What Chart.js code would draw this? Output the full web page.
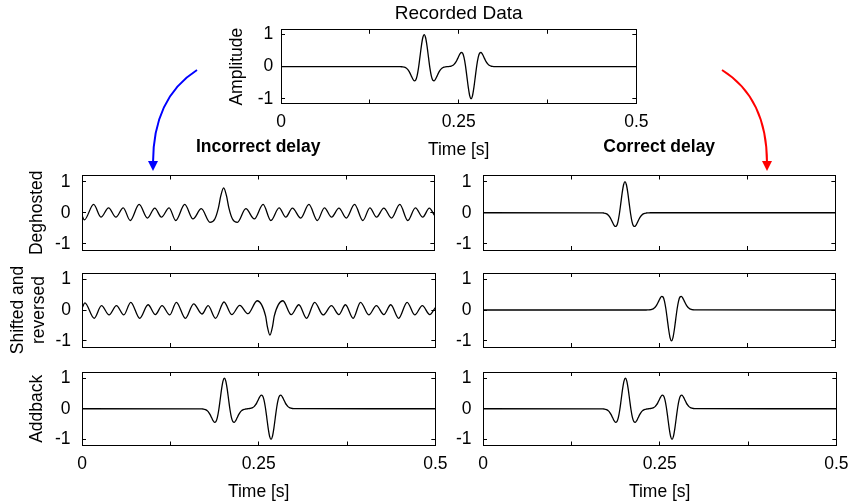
<!DOCTYPE html>
<html>
<head>
<meta charset="utf-8">
<title>Deghosting: incorrect and correct delay</title>
<script src="https://cdn.jsdelivr.net/npm/chart.js@4.4.1/dist/chart.umd.min.js"></script>
<style>
  body { margin: 0; background: #fff; width: 849px; height: 504px; position: relative; overflow: hidden; }
  canvas { position: absolute; }
</style>
</head>
<body>
<canvas id="arrows" width="849" height="504" style="left:0;top:0"></canvas>
<script>
// axis ticks shared by every panel
const xTicks = [0, 0.125, 0.25, 0.375, 0.5];
const xTickLabels = ['0', '', '0.25', '', '0.5'];
const yTicks = [-1, 0, 1];
const yTickLabels = ['-1', '0', '1'];

// sample times (s) around the primary arrival and its ghost
const waveTime = [
  0,
  0.1675, 0.1695, 0.1715, 0.1735, 0.1755, 0.1775, 0.1795, 0.1815, 0.1835, 0.1855,
  0.1875, 0.1895, 0.1915, 0.1935, 0.1955, 0.1975, 0.1995, 0.2015, 0.2035, 0.2055,
  0.2075, 0.2095, 0.2115, 0.2135, 0.2155, 0.2175, 0.2195, 0.2215, 0.2235, 0.2255,
  0.2275, 0.2295, 0.2315, 0.2335, 0.2355, 0.2375, 0.2395, 0.2415, 0.2435, 0.2455,
  0.2475, 0.2495, 0.2515, 0.2535, 0.2555, 0.2575, 0.2595, 0.2615, 0.2635, 0.2655,
  0.2675, 0.2695, 0.2715, 0.2735, 0.2755, 0.2775, 0.2795, 0.2815, 0.2835, 0.2855,
  0.2875, 0.2895, 0.2915, 0.2935, 0.2955, 0.2975, 0.2995, 0.3015,
  0.5
];

// recorded trace (primary + ghost); the addback panels give the same trace back
const recordedAmp = [
  0,
  -0.001, -0.003, -0.008, -0.017, -0.036, -0.070, -0.124, -0.201, -0.295, -0.386,
  -0.442, -0.422, -0.291, -0.041, 0.295, 0.641, 0.902, 1.0, 0.902, 0.641,
  0.295, -0.041, -0.291, -0.422, -0.442, -0.386, -0.295, -0.201, -0.124, -0.070,
  -0.036, -0.017, -0.008, -0.002, 0.002, 0.008, 0.017, 0.036, 0.070, 0.124,
  0.201, 0.295, 0.386, 0.442, 0.422, 0.291, 0.041, -0.295, -0.641, -0.902,
  -1.0, -0.902, -0.641, -0.295, 0.041, 0.291, 0.422, 0.442, 0.386, 0.295,
  0.201, 0.124, 0.070, 0.036, 0.017, 0.008, 0.003, 0.001,
  0
];

// correct delay: deghosted primary
const primaryAmp = [
  0,
  -0.001, -0.003, -0.008, -0.017, -0.036, -0.070, -0.124, -0.201, -0.295, -0.386,
  -0.442, -0.422, -0.291, -0.041, 0.295, 0.641, 0.902, 1.0, 0.902, 0.641,
  0.295, -0.041, -0.291, -0.422, -0.442, -0.386, -0.295, -0.201, -0.124, -0.070,
  -0.036, -0.017, -0.008, -0.003, -0.001, 0, 0, 0, 0, 0,
  0, 0, 0, 0, 0, 0, 0, 0, 0, 0,
  0, 0, 0, 0, 0, 0, 0, 0, 0, 0,
  0, 0, 0, 0, 0, 0, 0, 0,
  0
];

// correct delay: shifted and reversed ghost
const ghostAmp = [
  0,
  0, 0, 0, 0, 0, 0, 0, 0, 0, 0,
  0, 0, 0, 0, 0, 0, 0, 0, 0, 0,
  0, 0, 0, 0, 0, 0, 0, 0, 0, 0,
  0, 0, 0, 0.001, 0.003, 0.008, 0.017, 0.036, 0.070, 0.124,
  0.201, 0.295, 0.386, 0.442, 0.422, 0.291, 0.041, -0.295, -0.641, -0.902,
  -1.0, -0.902, -0.641, -0.295, 0.041, 0.291, 0.422, 0.442, 0.386, 0.295,
  0.201, 0.124, 0.070, 0.036, 0.017, 0.008, 0.003, 0.001,
  0
];

// incorrect delay: deghosted trace, peaks and troughs of the ringing
const deghostWrongTime = [
  0, 0.0033, 0.0165, 0.0269, 0.0377, 0.0481, 0.0585, 0.0684, 0.0811, 0.0929,
  0.1033, 0.1127, 0.1236, 0.133, 0.1458, 0.1575, 0.1693, 0.1816, 0.1885, 0.1935,
  0.197, 0.201, 0.205, 0.2085, 0.2135, 0.2205, 0.2325, 0.2445, 0.257, 0.268,
  0.2797, 0.2892, 0.2986, 0.3104, 0.322, 0.334, 0.344, 0.3542, 0.3646, 0.375,
  0.3868, 0.3986, 0.4085, 0.418, 0.4283, 0.4392, 0.451, 0.4623, 0.4731, 0.4835,
  0.4929, 0.5
];
const deghostWrongAmp = [
  -0.09, -0.23, 0.27, -0.14, 0.16, -0.14, 0.16, -0.25, 0.27, -0.17,
  0.15, -0.14, 0.16, -0.25, 0.27, -0.2, 0.13, -0.31, -0.2, 0.15,
  0.55, 0.8, 0.55, 0.15, -0.2, -0.31, 0.13, -0.2, 0.27, -0.25,
  0.16, -0.14, 0.15, -0.17, 0.27, -0.25, 0.16, -0.14, 0.15, -0.17,
  0.27, -0.25, 0.16, -0.14, 0.15, -0.17, 0.27, -0.25, 0.16, -0.14,
  0.15, -0.08
];

// incorrect delay: shifted and reversed trace
const shiftWrongTime = [
  0, 0.0033, 0.0165, 0.0269, 0.0377, 0.0481, 0.0585, 0.0684, 0.0811, 0.0929,
  0.1033, 0.1127, 0.1236, 0.133, 0.1458, 0.1575, 0.1693, 0.178, 0.1885, 0.2005,
  0.2115, 0.2228, 0.2345, 0.2475, 0.2595, 0.2618, 0.2656, 0.2694, 0.2717, 0.284,
  0.2957, 0.3066, 0.3175, 0.329, 0.341, 0.3528, 0.3632, 0.3726, 0.3835, 0.394,
  0.4057, 0.4165, 0.4269, 0.4368, 0.448, 0.46, 0.4708, 0.4816, 0.492, 0.5
];
const shiftWrongAmp = [
  0.09, 0.23, -0.27, 0.14, -0.16, 0.14, -0.16, 0.25, -0.27, 0.17,
  -0.15, 0.14, -0.16, 0.25, -0.27, 0.2, -0.13, 0.14, -0.27, 0.26,
  -0.15, 0.15, -0.12, 0.3, -0.2, -0.52, -0.81, -0.52, -0.2, 0.3,
  -0.15, 0.17, -0.27, 0.25, -0.16, 0.14, -0.15, 0.17, -0.27, 0.25,
  -0.16, 0.14, -0.15, 0.17, -0.27, 0.25, -0.16, 0.14, -0.15, 0.08
];

Chart.defaults.font.family = "'Liberation Sans', Arial, Helvetica, sans-serif";
Chart.defaults.font.size = 17.5;
Chart.defaults.color = '#000';

const edge = { display: true, color: '#000', width: 1 };
const grid = { drawOnChartArea: false, tickLength: -4, color: '#000', lineWidth: 1 };
const setX = s => { s.ticks = xTicks.map(v => ({ value: v })); };
const setY = s => { s.ticks = yTicks.map(v => ({ value: v })); };

// one framed trace; the plot area is placed on box (page px)
function panel(box, times, amps, o) {
  const canvas = document.createElement('canvas');
  canvas.width = box.w + 140;
  canvas.height = box.h + 120;
  document.body.appendChild(canvas);

  const chart = new Chart(canvas, {
    type: 'line',
    data: {
      datasets: [{
        data: times.map((t, i) => ({ x: t, y: amps[i] })),
        borderColor: '#000',
        borderWidth: 1.3,
        pointRadius: 0,
        cubicInterpolationMode: 'monotone',
        xAxisID: 'x',
        yAxisID: 'y'
      }]
    },
    options: {
      responsive: false,
      maintainAspectRatio: false,
      animation: false,
      events: [],
      layout: { padding: 0 },
      plugins: {
        legend: { display: false },
        tooltip: { enabled: false },
        title: o.title ? {
          display: true, fullSize: false, text: o.title, font: o.titleFont,
          padding: { top: 0, bottom: o.titleGap }
        } : { display: false }
      },
      scales: {
        x: {
          type: 'linear', position: 'bottom', min: 0, max: 0.5, afterBuildTicks: setX,
          afterFit: s => { s.height = o.xLabels ? 57.5 : 0; },
          ticks: { display: !!o.xLabels, autoSkip: false, maxRotation: 0, padding: 12.5,
                   callback: (v, i) => xTickLabels[i] },
          grid, border: edge,
          title: { display: !!o.xLabels, text: 'Time [s]', padding: 0 }
        },
        x2: {
          type: 'linear', axis: 'x', position: 'top', min: 0, max: 0.5, afterBuildTicks: setX,
          afterFit: s => { s.height = 0; },
          ticks: { display: false }, grid, border: edge
        },
        y: {
          type: 'linear', position: 'left', min: -o.yMax, max: o.yMax, afterBuildTicks: setY,
          afterFit: s => { s.width = o.yWidth; },
          ticks: { padding: o.tickPad, callback: (v, i) => yTickLabels[i] },
          grid, border: edge,
          title: { display: true, text: o.yTitle, padding: 0 }
        },
        y2: {
          type: 'linear', axis: 'y', position: 'right', min: -o.yMax, max: o.yMax, afterBuildTicks: setY,
          afterFit: s => { s.width = 0; },
          ticks: { display: false }, grid, border: edge
        }
      }
    }
  });

  // size the canvas so the plot area matches the box, then move it there
  const a = chart.chartArea;
  chart.resize(Math.round(canvas.width + box.w - (a.right - a.left)),
               Math.round(canvas.height + box.h - (a.bottom - a.top)));
  const b = chart.chartArea;
  canvas.style.left = Math.round(box.x - b.left) + 'px';
  canvas.style.top = Math.round(box.y - b.top) + 'px';
  return chart;
}

const colLeft = 82, colRight = 483, colW = 353;
const rowDeg = 175, rowShift = 273, rowAdd = 372, rowH = 74;
const lower = { yMax: 1.2, tickPad: 15.5, yWidth: 55 };
const heading = { titleFont: { size: 17.5, weight: 'bold' }, titleGap: 17.5 };

panel({ x: 281, y: 30, w: 355, h: 74 }, waveTime, recordedAmp, {
  yMax: 1.15, tickPad: 11.7, yWidth: 54, yTitle: 'Amplitude', xLabels: true,
  title: 'Recorded Data', titleFont: { size: 19, weight: 'normal' }, titleGap: 5
});

panel({ x: colLeft, y: rowDeg, w: colW, h: rowH }, deghostWrongTime, deghostWrongAmp,
  { ...lower, ...heading, yTitle: 'Deghosted', title: 'Incorrect delay' });
panel({ x: colLeft, y: rowShift, w: colW, h: rowH }, shiftWrongTime, shiftWrongAmp,
  { ...lower, yWidth: 74.5, yTitle: ['Shifted and', 'reversed'] });
panel({ x: colLeft, y: rowAdd, w: colW, h: 73 }, waveTime, recordedAmp,
  { ...lower, yTitle: 'Addback', xLabels: true });

panel({ x: colRight, y: rowDeg, w: colW, h: rowH }, waveTime, primaryAmp,
  { ...lower, ...heading, yTitle: '', title: 'Correct delay' });
panel({ x: colRight, y: rowShift, w: colW, h: rowH }, waveTime, ghostAmp,
  { ...lower, yTitle: '' });
panel({ x: colRight, y: rowAdd, w: colW, h: 73 }, waveTime, recordedAmp,
  { ...lower, yTitle: '', xLabels: true });

// curved arrows from the recorded trace down to the two columns
const ctx = document.getElementById('arrows').getContext('2d');
function arrow(color, x0, y0, cx, cy, x1, y1) {
  ctx.strokeStyle = color;
  ctx.fillStyle = color;
  ctx.lineWidth = 2;
  ctx.beginPath();
  ctx.moveTo(x0, y0);
  ctx.quadraticCurveTo(cx, cy, x1, y1 - 8);
  ctx.stroke();
  ctx.beginPath();
  ctx.moveTo(x1 - 5, y1 - 10);
  ctx.lineTo(x1 + 5, y1 - 10);
  ctx.lineTo(x1, y1);
  ctx.closePath();
  ctx.fill();
}
arrow('#0000ff', 197, 70, 153, 98, 153, 171);
arrow('#ff0000', 722, 70, 767, 98, 767, 171);
</script>
</body>
</html>
